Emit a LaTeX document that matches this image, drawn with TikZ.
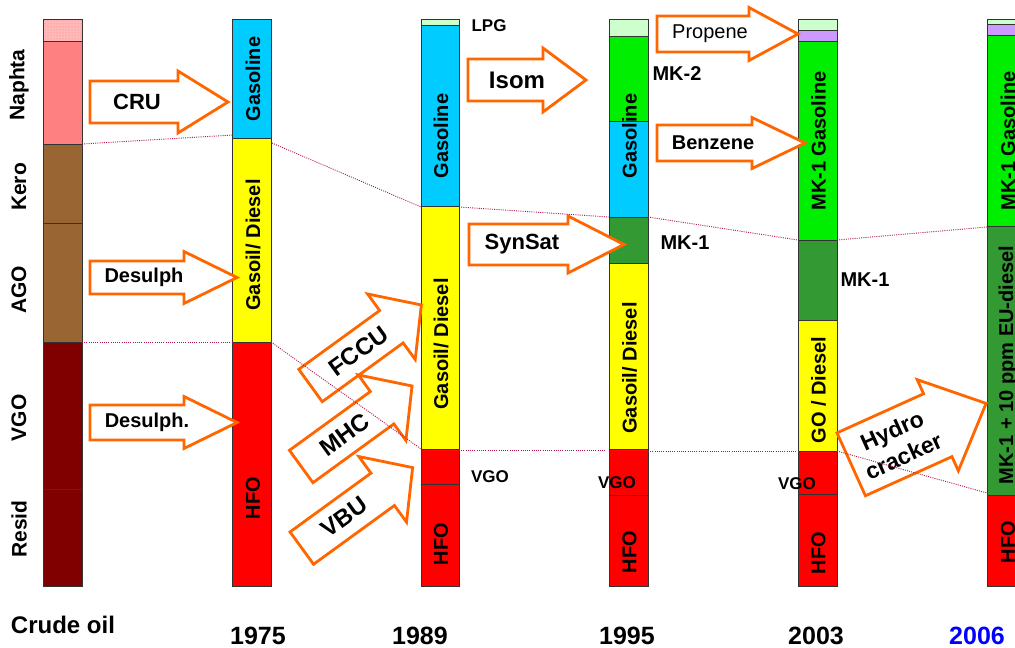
\documentclass[tikz,border=0pt]{standalone}
\usepackage{fontspec}
\setmainfont{Liberation Sans}
\usetikzlibrary{patterns}
\definecolor{pinkA}{HTML}{FF8080}
\definecolor{brownA}{HTML}{996633}
\definecolor{darkredA}{HTML}{800000}
\definecolor{cyanA}{HTML}{00CCFF}
\definecolor{yellowA}{HTML}{FFFF00}
\definecolor{redA}{HTML}{FF0000}
\definecolor{lpgA}{HTML}{CCFFCC}
\definecolor{greenA}{HTML}{00EE00}
\definecolor{dgreenA}{HTML}{339933}
\definecolor{purpleA}{HTML}{CC99FF}
\definecolor{orangeA}{HTML}{FF6600}
\definecolor{dotA}{HTML}{B0194F}
\definecolor{blueA}{HTML}{0000FF}
\tikzset{
  seg/.style={draw=black!80, line width=0.8pt},
  lbl/.style={font=\fontsize{20}{24}\selectfont\bfseries, inner sep=0pt},
  vlbl/.style={lbl, rotate=90},
  sidelbl/.style={font=\fontsize{21}{25}\selectfont\bfseries, inner sep=0pt, rotate=90},
  smalllbl/.style={font=\fontsize{17}{20}\selectfont\bfseries, inner sep=0pt},
  yearlbl/.style={font=\fontsize{25}{30}\selectfont\bfseries, inner sep=0pt},
  blockarrow/.style={draw=orangeA, fill=white, line width=2.8pt, line join=miter},
  arrowtext/.style={font=\fontsize{22}{26}\selectfont\bfseries, inner sep=0pt},
  levelline/.style={draw=dotA, line width=0.9pt, dash pattern=on 1pt off 1.2pt},
}
% #1 origin, #2 angle, #3 head base, #4 tip, #5 shaft half width, #6 head half width, #7 text pos, #8 text style, #9 text
\newcommand\blockarr[9]{%
  \begin{scope}[shift={#1},rotate=#2]
    \draw[blockarrow] (0,-#5) -- (#3,-#5) -- (#3,-#6) -- (#4,0) -- (#3,#6) -- (#3,#5) -- (0,#5) -- cycle;
    \node[arrowtext,#8,rotate=#2] at (#7,0) {#9};
  \end{scope}}
\begin{document}
\begin{tikzpicture}[x=1pt,y=-1pt]
\useasboundingbox (0,0) rectangle (1015,648);
% ---------- Crude oil column
\filldraw[seg, fill=pinkA!55] (43,19) rectangle (82,41);
\fill[pattern=dots, pattern color=pinkA] (43,19) rectangle (82,41);
\draw[seg] (43,19) rectangle (82,41);
\filldraw[seg, fill=pinkA] (43,41) rectangle (82,144);
\filldraw[seg, fill=brownA] (43,144) rectangle (82,223);
\filldraw[seg, fill=brownA] (43,223) rectangle (82,342);
\filldraw[seg, fill=darkredA] (43,342) rectangle (82,489);
\filldraw[seg, fill=darkredA] (43,489) rectangle (82,586);
\node[sidelbl] (naphta) at (19,85) {Naphta};
\node[sidelbl] (kero) at (19,187) {Kero};
\node[sidelbl] (ago) at (19,290) {AGO};
\node[sidelbl] (vgo0) at (19,418) {VGO};
\node[sidelbl] (resid) at (19,529) {Resid};
% ---------- 1975
\filldraw[seg, fill=cyanA] (232,19) rectangle (271,138);
\filldraw[seg, fill=yellowA] (232,138) rectangle (271,342);
\filldraw[seg, fill=redA] (232,342) rectangle (271,586);
\node[vlbl] (gas75) at (253,79) {Gasoline};
\node[vlbl] (die75) at (253,245) {Gasoil/ Diesel};
\node[vlbl] (hfo75) at (253,498) {HFO};
% ---------- 1989
\filldraw[seg, fill=lpgA] (421,19) rectangle (459,25);
\filldraw[seg, fill=cyanA] (421,25) rectangle (459,206);
\filldraw[seg, fill=yellowA] (421,206) rectangle (459,449);
\filldraw[seg, fill=redA] (421,449) rectangle (459,484);
\filldraw[seg, fill=redA] (421,484) rectangle (459,586);
\node[vlbl] (gas89) at (441,136) {Gasoline};
\node[vlbl] (die89) at (441,344) {Gasoil/ Diesel};
\node[vlbl] (hfo89) at (441,544) {HFO};
\node[smalllbl] (lpg89) at (489,26) {LPG};
\node[smalllbl] (vgo89) at (490,477) {VGO};
% ---------- 1995
\filldraw[seg, fill=lpgA] (609,19) rectangle (648,36);
\filldraw[seg, fill=greenA] (609,36) rectangle (648,121);
\filldraw[seg, fill=cyanA] (609,121) rectangle (648,217);
\filldraw[seg, fill=dgreenA] (609,217) rectangle (648,263);
\filldraw[seg, fill=yellowA] (609,263) rectangle (648,449);
\filldraw[seg, fill=redA] (609,449) rectangle (648,495);
\filldraw[seg, fill=redA] (609,495) rectangle (648,586);
\node[vlbl] (gas95) at (629.5,136) {Gasoline};
\node[vlbl] (die95) at (629.5,368) {Gasoil/ Diesel};
\node[vlbl] (hfo95) at (629.5,552) {HFO};
\node[lbl] (mk295) at (677,74) {MK-2};
\node[lbl] (mk195) at (685,243) {MK-1};
\node[smalllbl] (vgo95) at (617,483) {VGO};
% ---------- 2003
\filldraw[seg, fill=lpgA] (798,19) rectangle (837,30);
\filldraw[seg, fill=purpleA] (798,30) rectangle (837,41);
\filldraw[seg, fill=greenA] (798,41) rectangle (837,240);
\filldraw[seg, fill=dgreenA] (798,240) rectangle (837,320);
\filldraw[seg, fill=yellowA] (798,320) rectangle (837,451);
\filldraw[seg, fill=redA] (798,451) rectangle (837,494);
\filldraw[seg, fill=redA] (798,494) rectangle (837,586);
\node[vlbl] (gas03) at (818.5,141) {MK-1 Gasoline};
\node[vlbl] (die03) at (818.5,390) {GO / Diesel};
\node[vlbl] (hfo03) at (818.5,553) {HFO};
\node[lbl] (mk103) at (865,280) {MK-1};
\node[smalllbl] (vgo03) at (797,484) {VGO};
% ---------- 2006
\filldraw[seg, fill=lpgA] (987,19) rectangle (1027,24);
\filldraw[seg, fill=purpleA] (987,24) rectangle (1027,35);
\filldraw[seg, fill=greenA] (987,35) rectangle (1027,226);
\filldraw[seg, fill=dgreenA] (987,226) rectangle (1027,495);
\filldraw[seg, fill=redA] (987,495) rectangle (1027,586);
\node[vlbl] (gas06) at (1008,141) {MK-1 Gasoline};
\node[vlbl] (die06) at (1008,365) {MK-1 + 10 ppm EU-diesel};
\node[vlbl] (hfo06) at (1008,542) {HFO};
% ---------- block arrows
\blockarr{(90,102)}{0}{88}{138}{21}{31}{47}{}{CRU}
\blockarr{(90,277.5)}{0}{94}{147}{16.5}{26}{54}{font=\fontsize{20}{24}\selectfont\bfseries}{Desulph}
\blockarr{(90,422.5)}{0}{94}{147}{17.5}{26}{57}{font=\fontsize{20}{24}\selectfont\bfseries}{Desulph.}
\blockarr{(468,80)}{0}{75}{118}{21}{32}{49}{font=\fontsize{24}{28}\selectfont\bfseries}{Isom}
\blockarr{(469,244.5)}{0}{99}{155}{20.5}{28.5}{53}{}{SynSat}
\blockarr{(657,34)}{0}{92}{141}{18}{26.5}{53}{font=\fontsize{20}{24}\selectfont}{Propene}
\blockarr{(657,143)}{0}{95}{148}{18}{25.5}{56}{font=\fontsize{20}{24}\selectfont\bfseries}{Benzene}
\blockarr{(310.5,385.5)}{36}{100}{137}{20}{40.5}{59}{font=\fontsize{24}{28}\selectfont\bfseries}{FCCU}
\blockarr{(301.2,466.5)}{36}{100}{137}{20}{40.5}{54}{font=\fontsize{24}{28}\selectfont\bfseries}{MHC}
\blockarr{(301.8,548.1)}{36}{100}{137}{20}{40.5}{53}{font=\fontsize{24}{28}\selectfont\bfseries}{VBU}
\blockarr{(851.2,464.3)}{24.3}{95}{148}{34.5}{50}{51}{font=\fontsize{23}{28}\selectfont\bfseries,align=center}{Hydro\\cracker}
% ---------- level lines
\coordinate (a0) at (82,144);   \coordinate (a1) at (233,135);
\coordinate (b1) at (272,143);  \coordinate (b2) at (421,207);
\coordinate (c2) at (459,207);  \coordinate (c3) at (609,217);
\coordinate (d3) at (648,217);  \coordinate (d4) at (798,240);
\coordinate (e4) at (837,240);  \coordinate (e5) at (987,227);
\coordinate (f0) at (82,342);   \coordinate (f1) at (232,342);
\coordinate (g1) at (271,342);  \coordinate (g2) at (421,449);
\coordinate (h2) at (459,450);  \coordinate (h3) at (606,450);
\coordinate (i3) at (648,451);  \coordinate (i4) at (798,451);
\coordinate (j4) at (837,451);  \coordinate (j5) at (987,493);
\draw[levelline] (a0) -- (a1);
\draw[levelline] (b1) -- (b2);
\draw[levelline] (c2) -- (c3);
\draw[levelline] (d3) -- (d4);
\draw[levelline] (e4) -- (e5);
\draw[levelline] (f0) -- (f1);
\draw[levelline] (g1) -- (g2);
\draw[levelline] (h2) -- (h3);
\draw[levelline] (i3) -- (i4);
\draw[levelline] (j4) -- (j5);
% ---------- bottom labels
\node[font=\fontsize{24}{28}\selectfont\bfseries, inner sep=0pt] (crude) at (63,625) {Crude oil};
\node[yearlbl] (y75) at (258,636) {1975};
\node[yearlbl] (y89) at (420,636) {1989};
\node[yearlbl] (y95) at (627,636) {1995};
\node[yearlbl] (y03) at (816,636) {2003};
\node[yearlbl, text=blueA] (y06) at (977,636) {2006};
\end{tikzpicture}
\end{document}
